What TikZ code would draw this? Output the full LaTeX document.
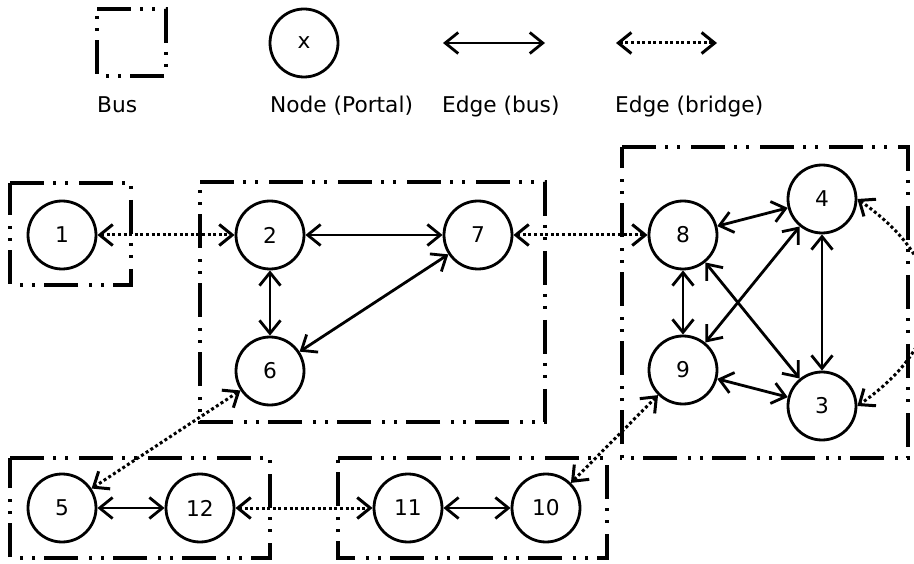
\documentclass[tikz,border=0pt]{standalone}
\usepackage{fontspec}
\setmainfont{DejaVu Sans}
\usetikzlibrary{arrows.meta}
\begin{document}
\begin{tikzpicture}[x=1pt,y=-1pt,
  openbarb/.tip={Straight Barb[length=13pt,width=21pt]},
  portal/.style={circle,draw,line width=2.8pt,minimum size=68pt,inner sep=0pt,
    font=\fontsize{21.7}{26}\selectfont},
  busedge/.style={line width=2.8pt,openbarb-openbarb},
  bridgeedge/.style={line width=3pt,dash pattern=on 3pt off 2.6pt,openbarb-openbarb},
  busbox/.style={line width=3.2pt,dash pattern=on 34pt off 9pt on 3pt off 9pt on 3pt off 11pt},
  legendtext/.style={anchor=base west,inner sep=0pt,font=\fontsize{21.7}{26}\selectfont}
]
\useasboundingbox (0,0) rectangle (914,564);

% ---- legend ----
\draw[busbox] (97,9) -- (166,9) -- (166,76) -- (97,76) -- cycle;
\node[legendtext] (lbus) at (97,113) {Bus};
\node[portal] (lnode) at (304,43) {x};
\node[legendtext] (lnodetxt) at (270,113) {Node (Portal)};
\coordinate (bA) at (443,43);
\coordinate (bB) at (545,43);
\draw[busedge] (bA) -- (bB);
\node[legendtext] (lbusedge) at (442,113) {Edge (bus)};
\coordinate (rA) at (616,43);
\coordinate (rB) at (717,43);
\draw[bridgeedge] (rA) -- (rB);
\node[legendtext] (lbridge) at (615,113) {Edge (bridge)};

% ---- buses ----
\draw[busbox] (10,183) -- (131,183) -- (131,285) -- (10,285) -- cycle;
\draw[busbox] (200,182) -- (545,182) -- (545,422) -- (200,422) -- cycle;
\draw[busbox] (622,147) -- (908,147) -- (908,458) -- (622,458) -- cycle;
\draw[busbox] (10,458) -- (270,458) -- (270,558) -- (10,558) -- cycle;
\draw[busbox] (338,458) -- (607,458) -- (607,558) -- (338,558) -- cycle;

% ---- portals ----
\node[portal] (n1)  at (62,235)  {1};
\node[portal] (n2)  at (270,235) {2};
\node[portal] (n7)  at (478,235) {7};
\node[portal] (n6)  at (270,371) {6};
\node[portal] (n8)  at (683,235) {8};
\node[portal] (n9)  at (683,370) {9};
\node[portal] (n4)  at (822,199) {4};
\node[portal] (n3)  at (822,406) {3};
\node[portal] (n5)  at (62,508)  {5};
\node[portal] (n12) at (200,508) {12};
\node[portal] (n11) at (408,508) {11};
\node[portal] (n10) at (546,508) {10};

% ---- bus edges ----
\draw[busedge] (n2) -- (n7);
\draw[busedge] (n2) -- (n6);
\draw[busedge] (n6) -- (n7);
\draw[busedge] (n8) -- (n4);
\draw[busedge] (n8) -- (n9);
\draw[busedge] (n8) -- (n3);
\draw[busedge] (n9) -- (n4);
\draw[busedge] (n9) -- (n3);
\draw[busedge] (n4) -- (n3);
\draw[busedge] (n5) -- (n12);
\draw[busedge] (n11) -- (n10);

% ---- bridge edges ----
\draw[bridgeedge] (n1) -- (n2);
\draw[bridgeedge] (n7) -- (n8);
\draw[bridgeedge] (n6) -- (n5);
\draw[bridgeedge] (n12) -- (n11);
\draw[bridgeedge] (n9) -- (n10);
\draw[bridgeedge] (n4.east) .. controls +(94,66) and +(94,-66) .. (n3.east);
\end{tikzpicture}
\end{document}
